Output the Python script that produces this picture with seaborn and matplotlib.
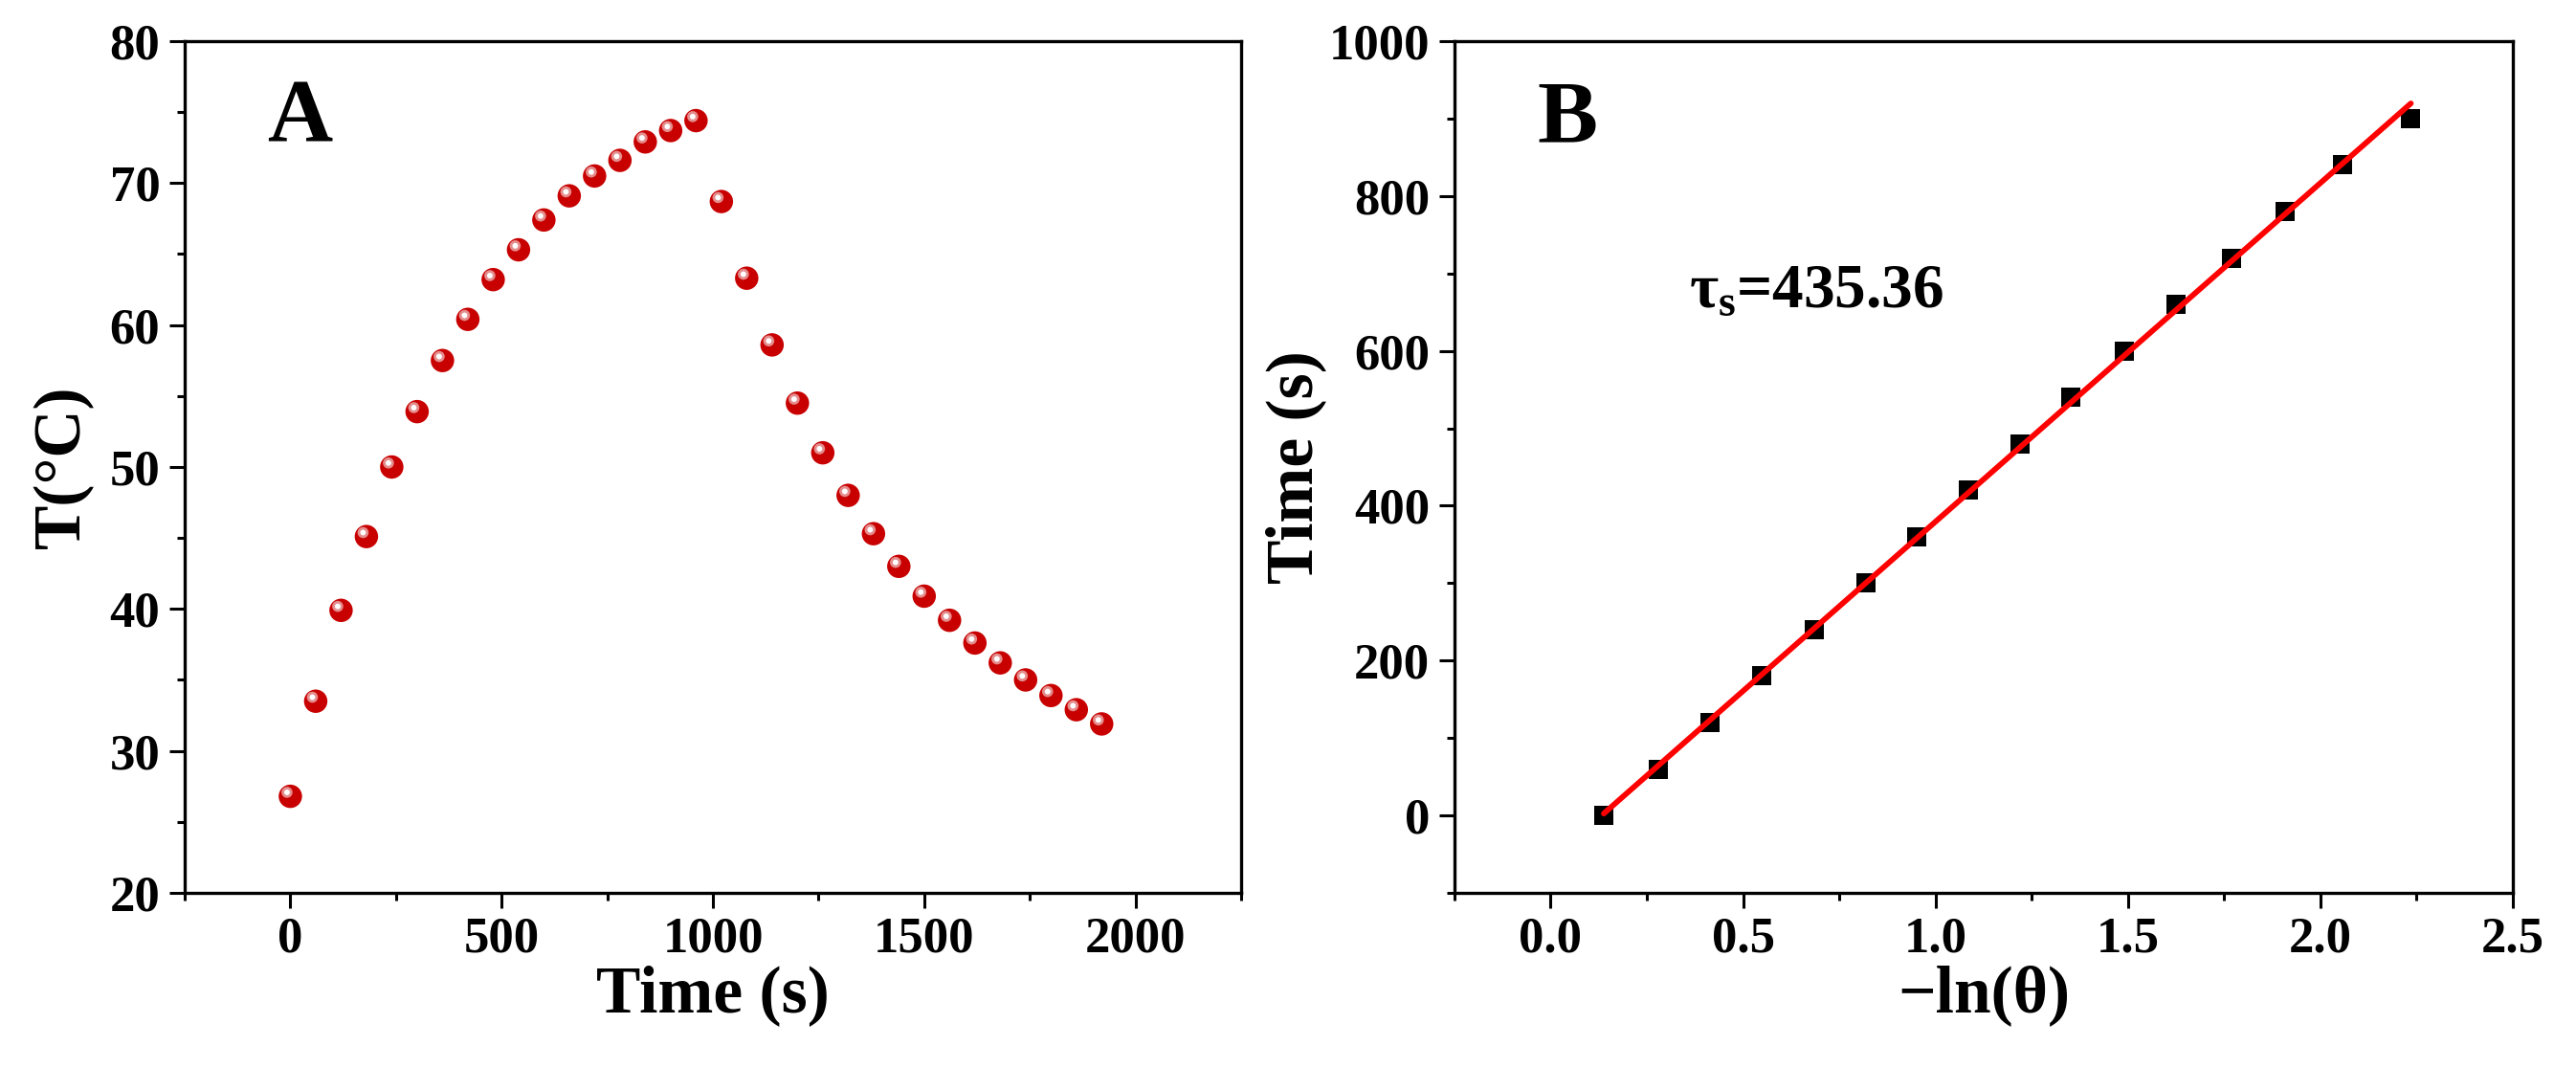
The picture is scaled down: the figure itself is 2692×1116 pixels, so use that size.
"""Heating / cooling curve and time-constant fit"""
import numpy as np
import matplotlib
matplotlib.use('Agg')
import matplotlib.pyplot as plt
from matplotlib.ticker import MultipleLocator
from matplotlib.transforms import offset_copy
import seaborn as sns

# panel A: temperature vs time
time_s = [0, 60, 120, 180, 240, 300, 360, 420, 480, 540, 600, 660, 720, 780, 840, 900, 960,
          1020, 1080, 1140, 1200, 1260, 1320, 1380, 1440, 1500, 1560, 1620, 1680, 1740, 1800, 1860, 1920]
temp_c = [26.8, 33.5, 39.9, 45.1, 50.0, 53.9, 57.5, 60.4, 63.2, 65.3, 67.4, 69.1, 70.5, 71.6, 72.9, 73.7, 74.4,
          68.7, 63.3, 58.6, 54.5, 51.0, 48.0, 45.3, 43.0, 40.9, 39.2, 37.6, 36.2, 35.0, 33.9, 32.9, 31.9]

# panel B: cooling time vs -ln(theta)
neg_ln_theta = [0.138, 0.279, 0.415, 0.549, 0.686, 0.820, 0.952, 1.086,
                1.220, 1.352, 1.490, 1.626, 1.769, 1.908, 2.057, 2.235]
time_b = [0, 60, 120, 180, 240, 300, 360, 420, 480, 540, 600, 660, 720, 780, 840, 900]
tau_s = 435.36

sns.set_style('ticks')
plt.rcParams['font.family'] = ['Liberation Serif', 'DejaVu Serif']
plt.rcParams['font.weight'] = 'bold'
plt.rcParams['axes.labelweight'] = 'bold'
plt.rcParams['text.color'] = 'black'
plt.rcParams['axes.labelcolor'] = 'black'
plt.rcParams['xtick.color'] = 'black'
plt.rcParams['ytick.color'] = 'black'
plt.rcParams['axes.edgecolor'] = 'black'
plt.rcParams['mathtext.fontset'] = 'custom'
plt.rcParams['mathtext.rm'] = 'Liberation Serif:bold'
plt.rcParams['mathtext.it'] = 'Liberation Serif:bold'
plt.rcParams['mathtext.bf'] = 'Liberation Serif:bold'

fig = plt.figure(figsize=(26.92, 11.16), dpi=100)
ax1 = fig.add_axes([0.0717, 0.164, 0.4101, 0.7975])
ax2 = fig.add_axes([0.5646, 0.164, 0.4109, 0.7975])


def style_axis(ax):
    for side in ['top', 'right', 'bottom', 'left']:
        ax.spines[side].set_linewidth(2.4)
        ax.spines[side].set_color('black')
    ax.tick_params(which='both', direction='out', top=False, right=False, width=2.2,
                   color='black', labelcolor='black')
    ax.tick_params(which='major', length=11.5, labelsize=38)
    ax.tick_params(which='minor', length=5.8)
    ax.tick_params(axis='x', pad=6)
    ax.tick_params(axis='y', pad=7)
    for lab in ax.get_xticklabels() + ax.get_yticklabels():
        lab.set_fontweight('bold')


# ---- A ----
sns.scatterplot(x=time_s, y=temp_c, ax=ax1, s=310, color='#C80000', edgecolor='none', zorder=3)
# sphere highlight
hl = offset_copy(ax1.transData, fig=fig, x=-2.5, y=3.0, units='points')
ax1.scatter(time_s, temp_c, s=70, color='#E58C8C', edgecolor='none', transform=hl, zorder=4)
ax1.scatter(time_s, temp_c, s=18, color='white', edgecolor='none', transform=hl, zorder=5)
ax1.set_xlim(-250, 2250)
ax1.set_ylim(20, 80)
ax1.xaxis.set_major_locator(MultipleLocator(500))
ax1.xaxis.set_minor_locator(MultipleLocator(250))
ax1.yaxis.set_major_locator(MultipleLocator(10))
ax1.yaxis.set_minor_locator(MultipleLocator(5))
ax1.set_xlabel('Time (s)', fontsize=50, fontweight='bold', labelpad=2)
ax1.set_ylabel('T(°C)', fontsize=50, fontweight='bold', labelpad=12)
ax1.text(0.078, 0.882, 'A', transform=ax1.transAxes, fontsize=68, fontweight='bold')
style_axis(ax1)

# ---- B ----
sns.regplot(x=neg_ln_theta, y=time_b, ax=ax2, ci=None, marker='s',
            scatter_kws=dict(s=190, color='black', alpha=1, linewidths=0, zorder=3),
            line_kws=dict(color='#FF0000', lw=4.2, zorder=4, solid_capstyle='round'))
ax2.set_xlim(-0.25, 2.5)
ax2.set_ylim(-100, 1000)
ax2.xaxis.set_major_locator(MultipleLocator(0.5))
ax2.xaxis.set_minor_locator(MultipleLocator(0.25))
ax2.yaxis.set_major_locator(MultipleLocator(200))
ax2.yaxis.set_minor_locator(MultipleLocator(100))
ax2.set_xlabel('−ln(θ)', fontsize=50, fontweight='bold', labelpad=2)
ax2.set_ylabel('Time (s)', fontsize=50, fontweight='bold', labelpad=2)
ax2.text(0.078, 0.882, 'B', transform=ax2.transAxes, fontsize=68, fontweight='bold')
ax2.text(0.36, 656, r'$\tau_{s}$=' + f'{tau_s:.2f}', fontsize=47, fontweight='bold')
style_axis(ax2)

fig.savefig('out.png', dpi=100)
plt.close(fig)
